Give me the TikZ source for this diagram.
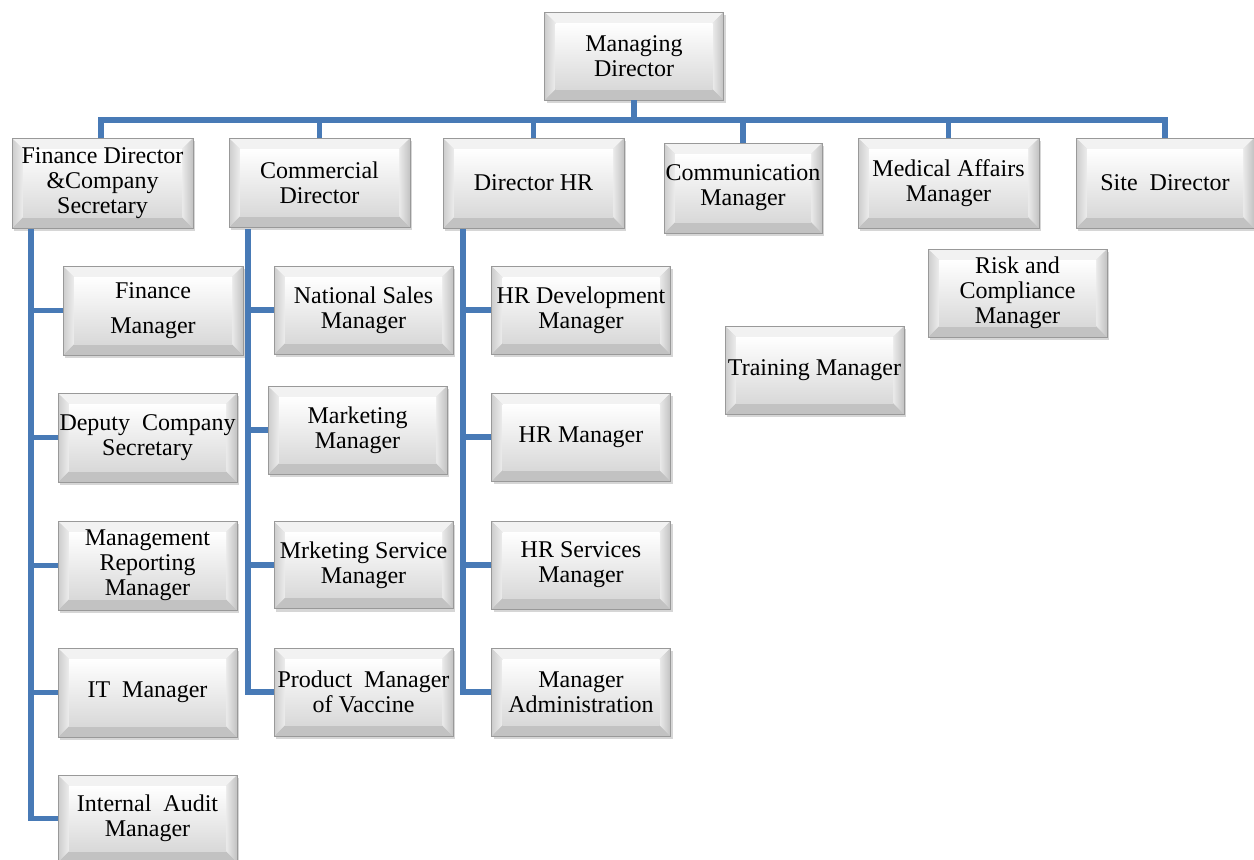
\documentclass[tikz,border=0pt]{standalone}
\usepackage{fontspec}
\setmainfont{Liberation Serif}
\usetikzlibrary{calc,shadows}
\definecolor{lineblue}{RGB}{72,122,182}
\tikzset{
  bevbox/.style={rectangle, draw=black!40, line width=0.6pt, inner sep=0pt,
    align=center, font=\fontsize{24}{25}\selectfont,
    drop shadow={shadow xshift=2pt, shadow yshift=-3pt, fill=black, opacity=0.16},
    path picture={
      \coordinate (pA) at (path picture bounding box.south west);
      \coordinate (pC) at (path picture bounding box.north east);
      \coordinate (pB) at (pA -| pC);
      \coordinate (pD) at (pA |- pC);
      \coordinate (iA) at ($(pA)+(11pt,11pt)$);
      \coordinate (iC) at ($(pC)+(-11pt,-11pt)$);
      \coordinate (iB) at (iA -| iC);
      \coordinate (iD) at (iA |- iC);
      \fill[black!5] (pD) -- (pC) -- (iC) -- (iD) -- cycle;
      \fill[black!24] (pA) -- (pB) -- (iB) -- (iA) -- cycle;
      \shade[left color=black!20, right color=black!7] (pA) -- (iA) -- (iD) -- (pD) -- cycle;
      \shade[left color=black!8, right color=black!24] (pB) -- (pC) -- (iC) -- (iB) -- cycle;
      \shade[top color=white, bottom color=black!15] (iA) rectangle (iC);
    }},
  conn/.style={draw=lineblue, line width=5.5pt, line join=miter}
}
\begin{document}
\begin{tikzpicture}[x=1pt,y=-1pt]
\useasboundingbox (0,0) rectangle (1254,860);
% top
\node[bevbox, minimum width=179pt, minimum height=88pt] (md) at (634,56) {Managing\\Director};
% level 1
\node[bevbox, minimum width=181pt, minimum height=90pt] (fd) at (102.5,183) {Finance Director\\\&Company\\Secretary};
\node[bevbox, minimum width=181pt, minimum height=89pt] (cd) at (319.5,182.5) {Commercial\\Director};
\node[bevbox, minimum width=181pt, minimum height=90pt] (dhr) at (533.5,183) {Director HR};
\node[bevbox, minimum width=158pt, minimum height=90pt] (cm) at (743,188) {Communication\\Manager};
\node[bevbox, minimum width=181pt, minimum height=90pt] (mam) at (948.5,183) {Medical Affairs\\Manager};
\node[bevbox, minimum width=178pt, minimum height=90pt] (sd) at (1165,183) {Site~ Director};
% finance column
\node[bevbox, minimum width=180pt, minimum height=89pt] (fm) at (153,310.5) {Finance\\[10pt]Manager};
\node[bevbox, minimum width=179pt, minimum height=89pt] (dcs) at (147.5,437.5) {Deputy~ Company\\Secretary};
\node[bevbox, minimum width=179pt, minimum height=89pt] (mrm) at (147.5,565.5) {Management\\Reporting\\Manager};
\node[bevbox, minimum width=179pt, minimum height=89pt] (itm) at (147.5,692.5) {IT~ Manager};
\node[bevbox, minimum width=179pt, minimum height=87pt] (iam) at (147.5,818.5) {Internal~ Audit\\Manager};
% commercial column
\node[bevbox, minimum width=179pt, minimum height=88pt] (nsm) at (363.5,310) {National Sales\\Manager};
\node[bevbox, minimum width=179pt, minimum height=88pt] (mkm) at (357.5,430) {Marketing\\Manager};
\node[bevbox, minimum width=179pt, minimum height=87pt] (msm) at (363.5,565) {Mrketing Service\\Manager};
\node[bevbox, minimum width=179pt, minimum height=88pt] (pmv) at (363.5,692) {Product~ Manager\\of Vaccine};
% HR column
\node[bevbox, minimum width=179pt, minimum height=88pt] (hrd) at (581,310) {HR Development\\Manager};
\node[bevbox, minimum width=179pt, minimum height=88pt] (hrm) at (581,437) {HR Manager};
\node[bevbox, minimum width=179pt, minimum height=88pt] (hrs) at (581,565) {HR Services\\Manager};
\node[bevbox, minimum width=179pt, minimum height=88pt] (mad) at (581,692) {Manager\\Administration};
% unconnected
\node[bevbox, minimum width=179pt, minimum height=88pt] (tm) at (814.5,370) {Training Manager};
\node[bevbox, minimum width=179pt, minimum height=88pt] (rcm) at (1017.5,293) {Risk and\\Compliance\\Manager};
% connectors
\coordinate (bus) at (634,120);
\draw[conn] (md.south) -- (bus);
\draw[conn] (fd.north -| 101,0) |- (bus);
\draw[conn] (sd.north) |- (bus);
\draw[conn] (cd.north) -- (cd.north |- bus);
\draw[conn] (dhr.north) -- (dhr.north |- bus);
\draw[conn] (cm.north) -- (cm.north |- bus);
\draw[conn] (mam.north) -- (mam.north |- bus);
\coordinate (fdl) at (31,229);
\coordinate (cdl) at (248,229);
\coordinate (hrl) at (463,229);
\draw[conn] (fdl) |- (fm.west);
\draw[conn] (fdl) |- (dcs.west);
\draw[conn] (fdl) |- (mrm.west);
\draw[conn] (fdl) |- (itm.west);
\draw[conn] (fdl) |- (iam.west);
\draw[conn] (cdl) |- (nsm.west);
\draw[conn] (cdl) |- (mkm.west);
\draw[conn] (cdl) |- (msm.west);
\draw[conn] (cdl) |- (pmv.west);
\draw[conn] (hrl) |- (hrd.west);
\draw[conn] (hrl) |- (hrm.west);
\draw[conn] (hrl) |- (hrs.west);
\draw[conn] (hrl) |- (mad.west);
\end{tikzpicture}
\end{document}
